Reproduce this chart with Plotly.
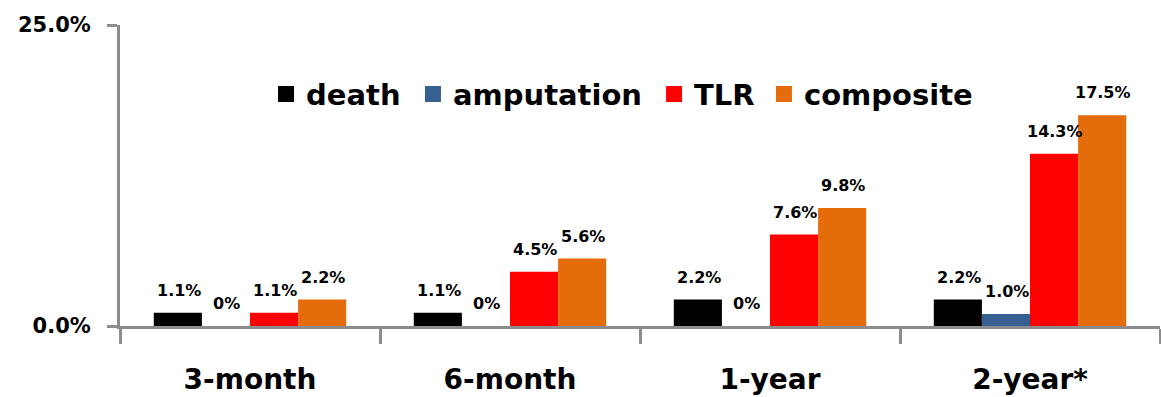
import plotly.graph_objects as go

# Event rates by follow-up interval (%)
periods = ["3-month", "6-month", "1-year", "2-year*"]
death = [1.1, 1.1, 2.2, 2.2]
amputation = [0, 0, 0, 1.0]
tlr = [1.1, 4.5, 7.6, 14.3]
composite = [2.2, 5.6, 9.8, 17.5]

series = [
    ("death", death, "#000000"),
    ("amputation", amputation, "#376092"),
    ("TLR", tlr, "#FF0000"),
    ("composite", composite, "#E46C0A"),
]

FONT = "DejaVu Sans"
W, H = 1161, 397
ML, MR, MT, MB = 120, 1, 25, 71
BARGAP = 0.26
AXIS_GREY = "#8C8C8C"

# each series gets its own legend box so the entries can be spaced freely
legend_ids = ["legend", "legend2", "legend3", "legend4"]
legend_x = [0.1404, 0.2817, 0.5135, 0.6192]

fig = go.Figure()
for (name, vals, color), lid in zip(series, legend_ids):
    fig.add_trace(go.Bar(
        name=name, x=periods, y=vals, legendgroup=name, showlegend=False,
        marker=dict(color=color, line=dict(width=0)),
    ))
    # legend swatch (larger square than the default bar icon)
    fig.add_trace(go.Scatter(
        name=name, x=[None], y=[None], mode="markers", legendgroup=name,
        legend=lid, showlegend=True,
        marker=dict(symbol="square", size=17, color=color),
    ))

# value labels above each bar, shifted to the bar's slot within the group
cat_px = (W - ML - MR) / len(periods)
bar_px = cat_px * (1 - BARGAP) / len(series)
annotations = []
for i, (name, vals, color) in enumerate(series):
    for p, v in zip(periods, vals):
        txt = f"{v:.1f}%" if v else "0%"
        annotations.append(dict(
            x=p, y=v, xref="x", yref="y", text=txt, showarrow=False,
            xanchor="center", yanchor="bottom",
            xshift=(i - 1.5) * bar_px + 1, yshift=11,
            font=dict(family=FONT, size=16, color="black", weight="bold"),
        ))

legend_style = dict(
    orientation="h", y=0.77, xanchor="left", yanchor="middle",
    font=dict(family=FONT, size=29, color="black", weight="bold"),
    bgcolor="rgba(0,0,0,0)",
)

fig.update_layout(
    width=W, height=H,
    margin=dict(l=ML, r=MR, t=MT, b=MB),
    paper_bgcolor="white", plot_bgcolor="white",
    barmode="group", bargap=BARGAP, bargroupgap=0,
    annotations=annotations,
    showlegend=True,
    xaxis=dict(
        type="category", tickson="boundaries",
        ticks="outside", ticklen=15, tickwidth=3, tickcolor=AXIS_GREY,
        showline=True, linecolor=AXIS_GREY, linewidth=3,
        showgrid=False, zeroline=False, ticklabelstandoff=26,
        tickfont=dict(family=FONT, size=28, color="black", weight="bold"),
    ),
    yaxis=dict(
        range=[0, 25], tickvals=[0, 25], ticktext=["0.0%", "25.0%"],
        ticks="outside", ticklen=10, tickwidth=3, tickcolor=AXIS_GREY,
        showline=True, linecolor=AXIS_GREY, linewidth=3,
        showgrid=False, zeroline=False, ticklabelstandoff=12,
        tickfont=dict(family=FONT, size=21, color="black", weight="bold"),
    ),
)
for lid, lx in zip(legend_ids, legend_x):
    fig.update_layout({lid: dict(legend_style, x=lx)})

fig.write_html("out.html")
